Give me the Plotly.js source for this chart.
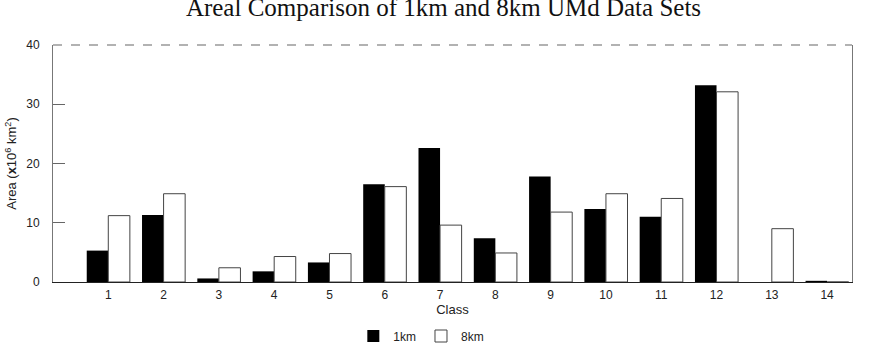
<!DOCTYPE html>
<html>
<head>
<meta charset="utf-8">
<script src="https://cdn.plot.ly/plotly-3.0.1.min.js"></script>
<style>html,body{margin:0;padding:0;background:#fff;}#chart{width:887px;height:350px;}</style>
</head>
<body>
<div id="chart"></div>
<script>
const classes = [1,2,3,4,5,6,7,8,9,10,11,12,13,14];
const area1km = [5.3,11.3,0.6,1.8,3.3,16.5,22.6,7.4,17.8,12.3,11.0,33.2,0,0.2];
const area8km = [11.2,14.9,2.4,4.3,4.8,16.1,9.6,4.9,11.8,14.9,14.1,32.1,9.0,0];
const yTicks = [0,10,20,30,40];

const traces = [
  {type:'bar', name:'1km', x:classes, y:area1km,
   marker:{color:'#000', line:{color:'#000', width:0}}},
  {type:'bar', name:'8km', x:classes, y:area8km,
   marker:{color:'#fff', line:{color:'#444', width:1}}}
];

const layout = {
  width:887, height:350,
  margin:{l:53, r:35, t:45, b:68, autoexpand:false},
  paper_bgcolor:'#fff', plot_bgcolor:'#fff',
  barmode:'group', bargap:0.22, bargroupgap:0,
  title:{text:'Areal Comparison of 1km and 8km UMd Data Sets',
         font:{family:'Liberation Serif, Times New Roman, serif', size:25, color:'#111'},
         x:0.5, xanchor:'center', y:0.978, yanchor:'middle', yref:'container', automargin:false},
  xaxis:{range:[0,14.45], tickvals:classes, ticktext:classes.map(String),
         showgrid:false, zeroline:false, showline:true, linecolor:'#222', linewidth:1,
         ticks:'', ticklabelstandoff:2,
         tickfont:{family:'Liberation Sans, Arial, sans-serif', size:12, color:'#222'},
         title:{text:'Class', font:{family:'Liberation Sans, Arial, sans-serif', size:13, color:'#222'}, standoff:0}},
  yaxis:{range:[0,40], tickvals:yTicks, ticktext:yTicks.map(String),
         showgrid:false, zeroline:false, showline:true, linecolor:'#777', linewidth:1, mirror:true,
         ticks:'inside', ticklen:12, tickcolor:'#666', ticklabelstandoff:10,
         tickfont:{family:'Liberation Sans, Arial, sans-serif', size:12, color:'#222'},
         title:{text:'Area (<b>x</b>10<sup>6</sup> km<sup>2</sup>)', font:{family:'Liberation Sans, Arial, sans-serif', size:13, color:'#222'}, standoff:6}},
  legend:{orientation:'h', x:0.475, xanchor:'center', xref:'container', y:0.04, yanchor:'middle', yref:'container',
          font:{family:'Liberation Sans, Arial, sans-serif', size:12, color:'#222'}},
  shapes:[
    {type:'line', xref:'paper', yref:'paper', x0:0, x1:1, y0:1, y1:1,
     line:{color:'#999', width:1.5, dash:'dash'}}
  ]
};

Plotly.newPlot('chart', traces, layout, {displayModeBar:false, staticPlot:true});
</script>
</body>
</html>
